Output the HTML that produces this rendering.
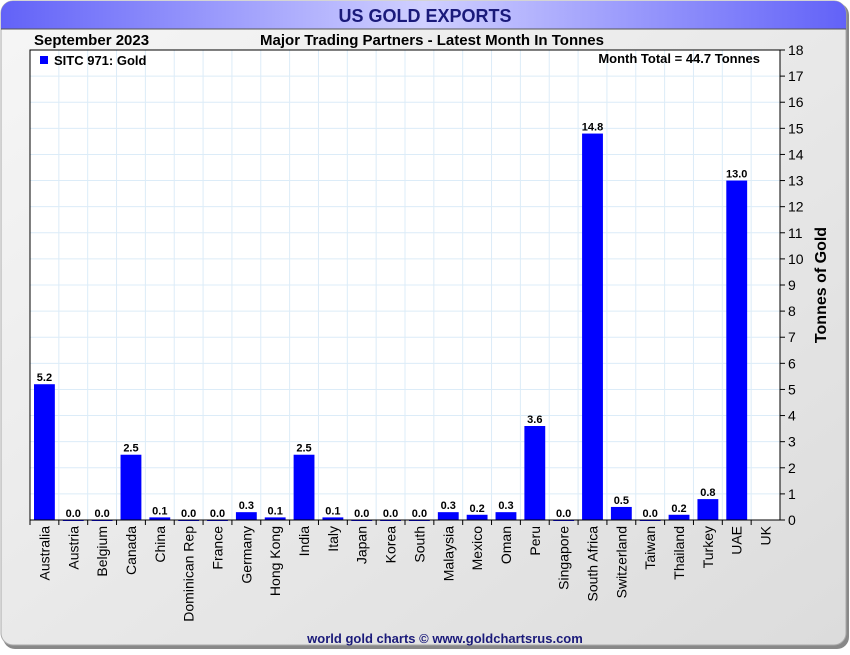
<!DOCTYPE html>
<html><head><meta charset="utf-8"><style>
body{margin:0;width:850px;height:650px;overflow:hidden;background:#fff;font-family:"Liberation Sans",Arial,sans-serif}
</style></head><body>
<svg width="850" height="650" xmlns="http://www.w3.org/2000/svg">
<defs>
<linearGradient id="tg" x1="0" x2="1" y1="0" y2="0"><stop offset="0" stop-color="#6262f8"/><stop offset="0.5" stop-color="#d0d0ff"/><stop offset="1" stop-color="#6262f8"/></linearGradient>
<linearGradient id="bg" x1="0" x2="1" y1="0" y2="1"><stop offset="0" stop-color="#f6f6f6"/><stop offset="1" stop-color="#dcdcdc"/></linearGradient>
</defs>
<rect x="3" y="3" width="846" height="646" rx="12" fill="#888"/>
<rect x="1" y="1" width="845" height="644" rx="12" fill="url(#bg)" stroke="#aaa"/>
<path d="M1,29 V13 A12,12 0 0 1 13,1 H834 A12,12 0 0 1 846,13 V29 Z" fill="url(#tg)"/>
<line x1="1" y1="29" x2="846" y2="29" stroke="#555" stroke-width="1"/>
<text x="425" y="22" text-anchor="middle" font-size="18" font-weight="bold" fill="#1a1a7a">US GOLD EXPORTS</text>
<text x="34" y="45" font-size="15" font-weight="bold">September 2023</text>
<text x="432" y="45" text-anchor="middle" font-size="15" font-weight="bold">Major Trading Partners - Latest Month In Tonnes</text>
<rect x="30" y="50" width="750" height="470" fill="#fff"/>
<g id="grid"></g>
<g id="bars"></g>
<rect x="30" y="50" width="750" height="470" fill="none" stroke="#000" stroke-width="1"/>
<g id="axes"></g>
<rect x="40" y="56" width="8" height="8" fill="#0000ff"/>
<text x="54" y="65" font-size="13" font-weight="bold">SITC 971: Gold</text>
<text x="760" y="63" text-anchor="end" font-size="13" font-weight="bold">Month Total = 44.7 Tonnes</text>
<text transform="translate(826,285) rotate(-90)" text-anchor="middle" font-size="16" font-weight="bold">Tonnes of Gold</text>
<text x="445" y="643" text-anchor="middle" font-size="13" font-weight="bold" fill="#1a1a7a">world gold charts © www.goldchartsrus.com</text>
</svg>
<script>
const categories=["Australia","Austria","Belgium","Canada","China","Dominican Rep","France","Germany","Hong Kong","India","Italy","Japan","Korea","South","Malaysia","Mexico","Oman","Peru","Singapore","South Africa","Switzerland","Taiwan","Thailand","Turkey","UAE","UK"];
const values=[5.2,0.0,0.0,2.5,0.1,0.0,0.0,0.3,0.1,2.5,0.1,0.0,0.0,0.0,0.3,0.2,0.3,3.6,0.0,14.8,0.5,0.0,0.2,0.8,13.0,null];
const yTicks=[0,1,2,3,4,5,6,7,8,9,10,11,12,13,14,15,16,17,18];
const NS="http://www.w3.org/2000/svg";
const X0=30,X1=780,Y0=520,Y1=50,YMAX=18;
const bw=(X1-X0)/categories.length;
const xs=i=>X0+i*bw;
const ys=v=>Y0-(v/YMAX)*(Y0-Y1);
function mk(t,a,p){const e=document.createElementNS(NS,t);for(const k in a)e.setAttribute(k,a[k]);p.appendChild(e);return e;}
const grid=document.getElementById('grid'),bars=document.getElementById('bars'),axes=document.getElementById('axes');
yTicks.forEach(t=>{
 const y=ys(t);
 const gl=mk('line',{x1:X0,x2:X1,y1:y,y2:y,stroke:'#dcecf8'},grid);
 
 
 mk('line',{x1:X1,x2:X1+5,y1:y,y2:y,stroke:'#000'},axes);
 const tx=mk('text',{x:X1+8,y:y+5,'font-size':14},axes);tx.textContent=t;
 
 
});
categories.forEach((c,i)=>{
 const gl=mk('line',{x1:xs(i),x2:xs(i),y1:Y1,y2:Y0,stroke:'#dcecf8'},grid);
 
 
 mk('line',{x1:xs(i),x2:xs(i),y1:Y0,y2:Y0+5,stroke:'#000'},axes);
 const cx=xs(i)+bw/2;
 const lb=mk('text',{transform:`translate(${cx+5},${Y0+6}) rotate(-90)`,'text-anchor':'end','font-size':14},axes);
 lb.textContent=c;
 
 
 const v=values[i];
 if(v===null||v===undefined)return;
 const y=ys(v);
 const r=mk('rect',{x:xs(i)+4,y:y,width:bw-8,height:Math.max(Y0-y,1),fill:'#0000ff'},bars);
 
 
 const vl=mk('text',{x:cx,y:y-3,'text-anchor':'middle','font-size':11,'font-weight':'bold'},bars);
 vl.textContent=v.toFixed(1);
 
 
});
</script>
</body></html>
